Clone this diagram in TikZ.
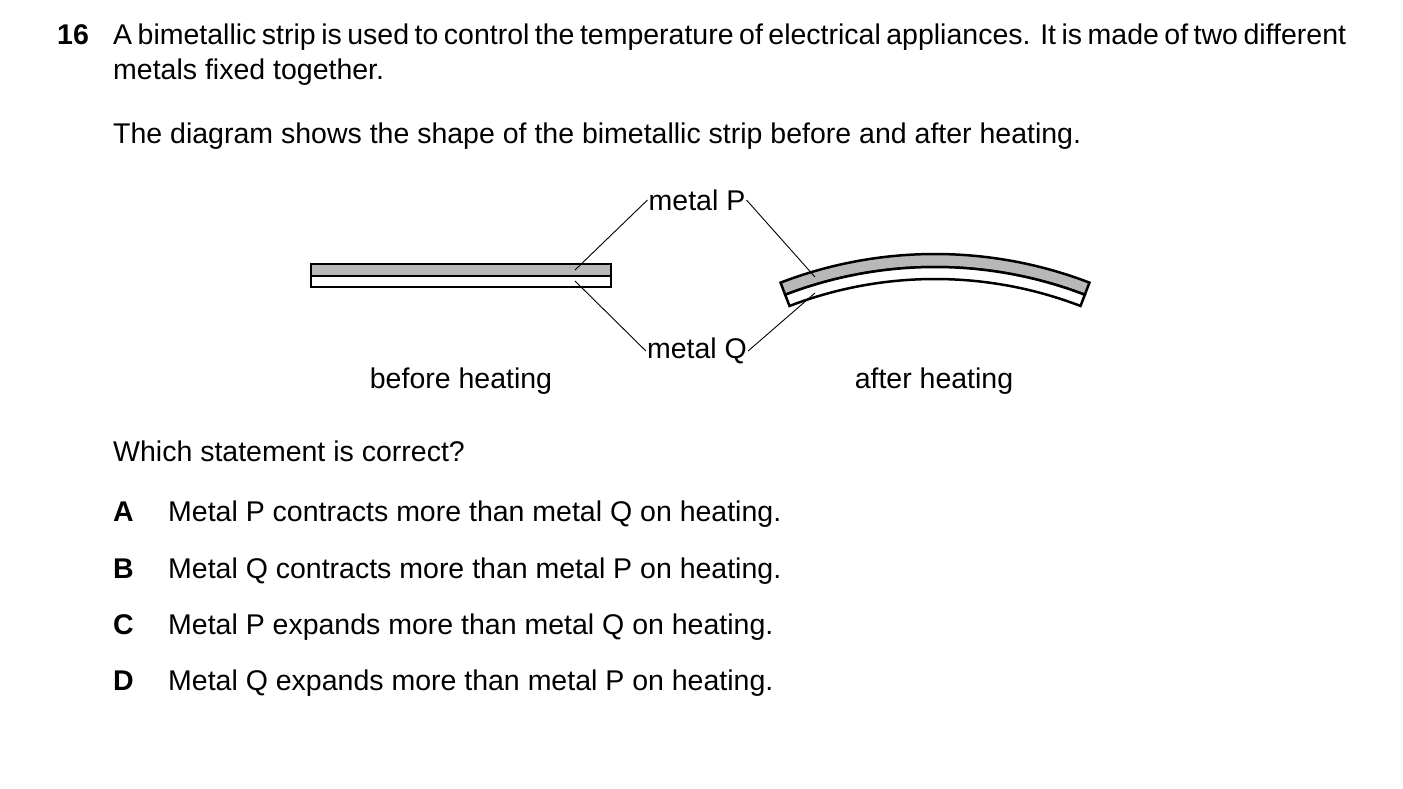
\documentclass[tikz,border=0pt]{standalone}
\usepackage{fontspec}
\setmainfont{Liberation Sans}
\begin{document}
\begin{tikzpicture}[x=1pt,y=-1pt,
  txt/.style={anchor=base west,inner sep=0pt,font=\fontsize{28.5}{35}\selectfont},
  bld/.style={txt,font=\fontsize{28.5}{35}\selectfont\bfseries},
  lbl/.style={inner sep=1pt,font=\fontsize{28.5}{30}\selectfont},
  strip/.style={line width=2.5pt},
  lead/.style={line width=0.9pt}]
\useasboundingbox (0,0) rectangle (1403,789);
\node[bld] (n) at (57,45) {16};
\node[anchor=north west,inner sep=0pt,font=\fontsize{28.5}{35}\selectfont] (q) at (113,24) {\parbox[t]{1233pt}{A bimetallic strip is used to control the temperature of electrical appliances. It is made of two different metals fixed together.}};
\node[txt] (d) at (113,143) {The diagram shows the shape of the bimetallic strip before and after heating.};
% straight strip
\draw[strip,fill=black!28] (311,264) rectangle (611,276);
\draw[strip,fill=white] (311,276) rectangle (611,287);
% curved strip
\coordinate (c) at (935,685);
\draw[strip,fill=black!28] ([shift={(249:431)}]c) arc[start angle=249,end angle=291,radius=431]
  -- ([shift={(291:418)}]c) arc[start angle=291,end angle=249,radius=418] -- cycle;
\draw[strip,fill=white] ([shift={(249:418)}]c) arc[start angle=249,end angle=291,radius=418]
  -- ([shift={(291:406)}]c) arc[start angle=291,end angle=249,radius=406] -- cycle;
\node[lbl] (P) at (697,200) {metal P};
\node[lbl] (Q) at (697,351) {metal Q};
\coordinate (p1) at (575,270);
\coordinate (p2) at (815,277);
\coordinate (q1) at (575,281);
\coordinate (q2) at (815,293);
\draw[lead] (p1) -- (P.west);
\draw[lead] (p2) -- (P.east);
\draw[lead] (q1) -- (Q.west);
\draw[lead] (q2) -- (Q.east);
\node[lbl] (b) at (461,381) {before heating};
\node[lbl] (a) at (934,381) {after heating};
\node[txt] (w) at (113,461) {Which statement is correct?};
\node[bld] (A) at (113,521) {A};
\node[txt] (At) at (168,521) {Metal P contracts more than metal Q on heating.};
\node[bld] (B) at (113,578) {B};
\node[txt] (Bt) at (168,578) {Metal Q contracts more than metal P on heating.};
\node[bld] (C) at (113,634) {C};
\node[txt] (Ct) at (168,634) {Metal P expands more than metal Q on heating.};
\node[bld] (D) at (113,690) {D};
\node[txt] (Dt) at (168,690) {Metal Q expands more than metal P on heating.};
\end{tikzpicture}
\end{document}
